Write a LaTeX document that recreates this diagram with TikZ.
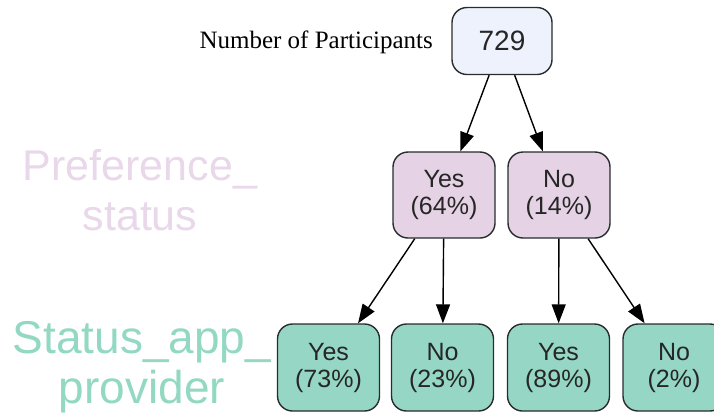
\documentclass[tikz,border=0pt]{standalone}
\usepackage{fontspec}
\setmainfont{Liberation Sans}
\newfontfamily\timesfont{Liberation Serif}
\usetikzlibrary{shapes,arrows.meta}

\definecolor{rootfill}{RGB}{238,242,253}
\definecolor{preffill}{RGB}{229,211,229}
\definecolor{appfill}{RGB}{149,214,196}
\definecolor{preftext}{RGB}{233,215,234}
\definecolor{apptext}{RGB}{146,216,194}
\definecolor{linegray}{RGB}{40,44,44}

\tikzset{
    treebox/.style={draw=linegray, line width=1.4pt, rounded corners=15pt, inner sep=0pt,
        align=center, text=black!85, font=\fontsize{25}{27}\selectfont},
    rootbox/.style={treebox, fill=rootfill, minimum width=100pt, minimum height=67pt,
        font=\fontsize{28}{32}\selectfont},
    prefbox/.style={treebox, fill=preffill, minimum width=102pt, minimum height=86pt},
    appbox/.style={treebox, fill=appfill, minimum width=102pt, minimum height=87pt},
    branch/.style={-{Triangle[length=19pt,width=14pt]}, line width=1.4pt, draw=black}
}

\begin{document}
\begin{tikzpicture}[x=1pt,y=1pt,yscale=-1,xscale=1]
    \useasboundingbox (0,0) rectangle (714,416);

    %Root node
    \node [rootbox] (root) at (502,41) {729};
    % Text Node
    \node [anchor=base east, inner sep=0pt, font=\timesfont\fontsize{25}{28}\selectfont] (partlabel) at (433,48) {Number of Participants};

    %Level labels
    \node [align=center, text=preftext, font=\fontsize{43}{50}\selectfont] (preflabel) at (140,190) {Preference\_\\status};
    \node [align=center, text=apptext, font=\fontsize{46}{50}\selectfont] (applabel) at (142,367) {Status\_app\_\\provider};

    %Preference_status row
    \node [prefbox] (prefyes) at (444,195) {Yes\\(64\%)};
    \node [prefbox] (prefno) at (559,195) {No\\(14\%)};

    %Status_app_provider row
    \node [appbox] (yesyes) at (328.5,367.5) {Yes\\(73\%)};
    \node [appbox] (yesno) at (442.5,367.5) {No\\(23\%)};
    \node [appbox] (noyes) at (558.5,367.5) {Yes\\(89\%)};
    \node [appbox] (nono) at (674,367.5) {No\\(2\%)};

    %Straight Lines
    \draw [branch] (root) -- (prefyes);
    \draw [branch] (root) -- (prefno);
    \draw [branch] (prefyes) -- (yesyes);
    \draw [branch] (prefyes) -- (yesno);
    \draw [branch] (prefno) -- (noyes);
    \draw [branch] (prefno) -- (nono);

\end{tikzpicture}
\end{document}
